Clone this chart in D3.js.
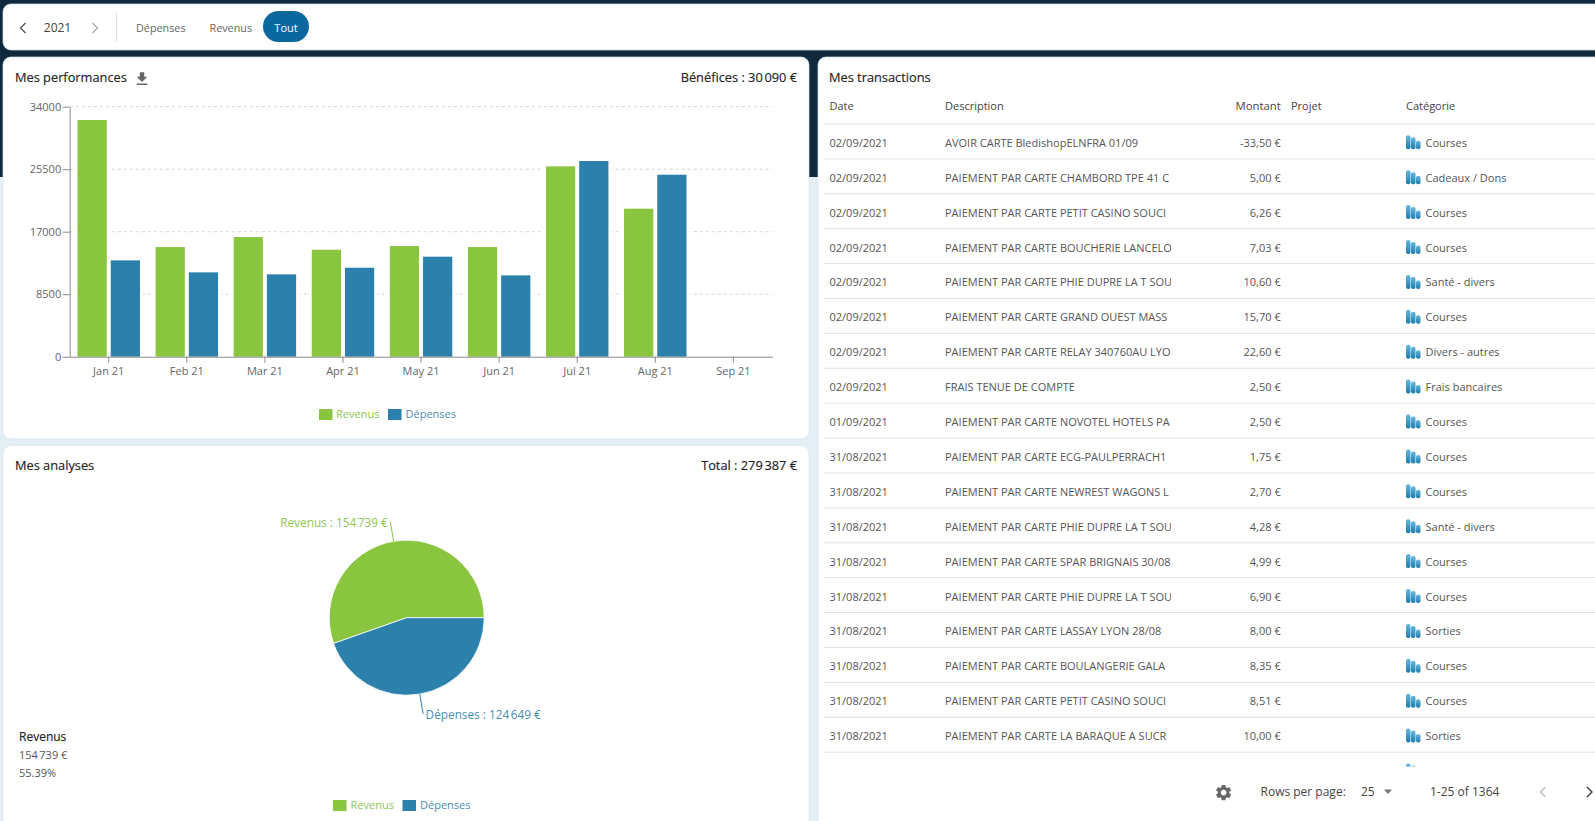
<!DOCTYPE html>
<html>
<head>
<meta charset="utf-8">
<script src="https://d3js.org/d3.v7.min.js"></script>
<style>
	html, body { margin: 0; padding: 0; overflow: hidden; background: #e3eff5; }
	svg { display: block; }
	text { font-family: "Open Sans", sans-serif; font-size: 11px; fill: #555; }
	.title { font-size: 12.8px; fill: #222; font-weight: 500; stroke: #222; stroke-width: 0.15px; }
	.axis text { font-size: 11px; fill: #666; }
	.axis path, .axis line { stroke: #8a8a8a; }
	.grid { stroke: #d6d6d6; stroke-dasharray: 3,3; }
</style>
</head>
<body>
<script>
// chart values
var months = ["Jan 21", "Feb 21", "Mar 21", "Apr 21", "May 21", "Jun 21", "Jul 21", "Aug 21", "Sep 21"];
var revenus = [32190, 14910, 16270, 14550, 15050, 14910, 25890, 20130, 0];
var depenses = [13100, 11470, 11200, 12100, 13600, 11060, 26610, 24750, 0];
var yTicks = [0, 8500, 17000, 25500, 34000];
var seriesNames = ["Revenus", "Dépenses"];
var pieValues = [154739, 124649];
var pieLabels = ["Revenus : 154\u202F739 €", "Dépenses : 124\u202F649 €"];

// table values
var dates = ["02/09/2021", "02/09/2021", "02/09/2021", "02/09/2021", "02/09/2021", "02/09/2021", "02/09/2021", "02/09/2021", "01/09/2021",
	"31/08/2021", "31/08/2021", "31/08/2021", "31/08/2021", "31/08/2021", "31/08/2021", "31/08/2021", "31/08/2021", "31/08/2021", "31/08/2021"];
var descriptions = ["AVOIR CARTE BledishopELNFRA 01/09", "PAIEMENT PAR CARTE CHAMBORD TPE 41 C", "PAIEMENT PAR CARTE PETIT CASINO SOUCI",
	"PAIEMENT PAR CARTE BOUCHERIE LANCELO", "PAIEMENT PAR CARTE PHIE DUPRE LA T SOU", "PAIEMENT PAR CARTE GRAND OUEST MASS",
	"PAIEMENT PAR CARTE RELAY 340760AU LYO", "FRAIS TENUE DE COMPTE", "PAIEMENT PAR CARTE NOVOTEL HOTELS PA",
	"PAIEMENT PAR CARTE ECG-PAULPERRACH1", "PAIEMENT PAR CARTE NEWREST WAGONS L", "PAIEMENT PAR CARTE PHIE DUPRE LA T SOU",
	"PAIEMENT PAR CARTE SPAR BRIGNAIS 30/08", "PAIEMENT PAR CARTE PHIE DUPRE LA T SOU", "PAIEMENT PAR CARTE LASSAY LYON 28/08",
	"PAIEMENT PAR CARTE BOULANGERIE GALA", "PAIEMENT PAR CARTE PETIT CASINO SOUCI", "PAIEMENT PAR CARTE LA BARAQUE A SUCR",
	"PAIEMENT PAR CARTE BOULANGERIE GALA"];
var amounts = ["-33,50 €", "5,00 €", "6,26 €", "7,03 €", "10,60 €", "15,70 €", "22,60 €", "2,50 €", "2,50 €", "1,75 €", "2,70 €", "4,28 €",
	"4,99 €", "6,90 €", "8,00 €", "8,35 €", "8,51 €", "10,00 €", "10,50 €"];
var categories = ["Courses", "Cadeaux / Dons", "Courses", "Courses", "Santé - divers", "Courses", "Divers - autres", "Frais bancaires", "Courses",
	"Courses", "Courses", "Santé - divers", "Courses", "Courses", "Sorties", "Courses", "Courses", "Sorties", "Courses"];

var green = "#89c53f", blue = "#2b81ab";
var colors = [green, blue];
var labelColors = ["#8fc653", "#4b8db0"];

var svg = d3.select("body").append("svg").attr("width", 1595).attr("height", 821);
var defs = svg.append("defs");

// page background and cards
svg.append("rect").attr("width", 1595).attr("height", 177).attr("fill", "#10293c");
svg.append("rect").attr("y", 177).attr("width", 1595).attr("height", 644).attr("fill", "#e3eff5");

function card(x, y, w, h) {
	svg.append("rect").attr("x", x).attr("y", y).attr("width", w).attr("height", h).attr("rx", 8)
		.attr("fill", "#fff").attr("stroke", "#d5e4ec").attr("stroke-width", 0.7);
}
card(3, 4, 1610, 46);
card(3, 57, 806, 382);
card(3, 445.5, 806, 400);
card(818, 57, 800, 790);

function label(x, y, str, anchor, cls, color, size) {
	var t = svg.append("text").attr("x", x).attr("y", y).attr("dy", "0.35em").attr("text-anchor", anchor || "start").text(str);
	if (cls) t.attr("class", cls);
	if (color) t.style("fill", color);
	if (size) t.style("font-size", size + "px");
	return t;
}
function chevron(x, y, dir, color) {
	svg.append("path").attr("d", "M" + (x - 2.5 * dir) + "," + (y - 5) + "L" + (x + 2.5 * dir) + "," + y + "L" + (x - 2.5 * dir) + "," + (y + 5))
		.attr("fill", "none").attr("stroke", color).attr("stroke-width", 1.3);
}

// top bar
chevron(23, 28, -1, "#555");
label(57.5, 28, "2021", "middle", null, "#444", 12);
chevron(95, 28, 1, "#aaa");
svg.append("line").attr("x1", 116.5).attr("x2", 116.5).attr("y1", 13).attr("y2", 42).attr("stroke", "#ddd");
label(136, 28, "Dépenses", "start", null, "#666", 10.8);
label(209.5, 28, "Revenus", "start", null, "#666", 10.8);
svg.append("rect").attr("x", 263).attr("y", 11).attr("width", 46).attr("height", 31).attr("rx", 15.5).attr("fill", "#0a689f");
label(286, 28, "Tout", "middle", null, "#fff");

// Mes performances
label(15, 78, "Mes performances", "start", "title");
svg.append("path").attr("transform", "translate(133,70) scale(0.75)")
	.attr("d", "M19 9h-4V3H9v6H5l7 7 7-7zM5 18v2h14v-2H5z").attr("fill", "#666");
label(797, 78, "Bénéfices : 30\u202F090 €", "end", "title");

// 1. Scale
var xScale = d3.scaleBand().domain(months).range([69.7, 772.4]).paddingInner(0.2).paddingOuter(0.1);
var xInner = d3.scaleBand().domain(seriesNames).range([0, xScale.bandwidth()]).paddingInner(0.12);
var yScale = d3.scaleLinear().domain([0, 34000]).range([356.7, 106.7]);
var xTickScale = d3.scaleBand().domain(months).range([69.7, 772.4]);

// 2. grid behind the bars
svg.selectAll("line.grid").data(yTicks.slice(1)).enter().append("line")
	.attr("class", "grid")
	.attr("x1", 69.7).attr("x2", 772.4)
	.attr("y1", function(d) { return yScale(d); })
	.attr("y2", function(d) { return yScale(d); });

// 3. bars
[revenus, depenses].forEach(function(values, s) {
	svg.append("g").selectAll("rect").data(values).enter().append("rect")
		.attr("x", function(d, i) { return xScale(months[i]) + xInner(seriesNames[s]); })
		.attr("y", function(d) { return yScale(d); })
		.attr("width", xInner.bandwidth())
		.attr("height", function(d) { return yScale(0) - yScale(d); })
		.attr("fill", colors[s])
		.attr("stroke", "#fff").attr("stroke-width", function(d) { return d ? 6 : 0; })
		.style("paint-order", "stroke");
});

// 4. axes
svg.append("g").attr("class", "axis").attr("transform", "translate(69.7,0)")
	.call(d3.axisLeft(yScale).tickValues(yTicks).tickFormat(d3.format("d")).tickSize(7).tickSizeOuter(0).tickPadding(1.5));
svg.append("g").attr("class", "axis").attr("transform", "translate(0,356.7)")
	.call(d3.axisBottom(xTickScale).tickSize(6).tickSizeOuter(0).tickPadding(5));

// legend
function legend(x1, t1, x2, t2, y) {
	var xs = [x1, x2], ts = [t1, t2];
	seriesNames.forEach(function(name, i) {
		svg.append("rect").attr("x", xs[i]).attr("y", y - 5.5).attr("width", 13.5).attr("height", 11).attr("fill", colors[i]);
		label(ts[i], y, name, "start", null, labelColors[i]);
	});
}
legend(319, 336, 388, 405.5, 414.5);

// Mes analyses
label(15, 466, "Mes analyses", "start", "title");
label(797, 466, "Total : 279\u202F387 €", "end", "title");

// pie, starts where the Revenus slice ends up in the original
var pieCx = 406.7, pieCy = 617.7, pieR = 77.5;
var pieStart = Math.PI / 2 - 2 * Math.PI * pieValues[0] / d3.sum(pieValues);
var pie = d3.pie().sort(null).startAngle(pieStart).endAngle(pieStart + 2 * Math.PI);
var arc = d3.arc().innerRadius(0).outerRadius(pieR);
var pieG = svg.append("g").attr("transform", "translate(" + pieCx + "," + pieCy + ")");
pieG.selectAll("path").data(pie(pieValues)).enter().append("path")
	.attr("d", arc)
	.attr("fill", function(d, i) { return colors[i]; })
	.attr("stroke", "#fff").attr("stroke-width", 0.8);

// leader lines go from the middle of each slice, 20px out
pie(pieValues).forEach(function(d, i) {
	var mid = (d.startAngle + d.endAngle) / 2;
	var sx = Math.sin(mid), sy = -Math.cos(mid);
	var ex = pieCx + (pieR + 20) * sx, ey = pieCy + (pieR + 20) * sy;
	svg.append("line").attr("x1", pieCx + pieR * sx).attr("y1", pieCy + pieR * sy).attr("x2", ex).attr("y2", ey)
		.attr("stroke", colors[i]);
	label(i == 0 ? ex - 2.5 : ex + 2.5, ey + 1.5, pieLabels[i], i == 0 ? "end" : "start", null, labelColors[i], 11.8);
});

label(19, 737, "Revenus", "start", "title").style("font-size", "12px");
label(19, 755, "154\u202F739 €");
label(19, 773, "55.39%");
legend(333, 350.5, 402.5, 420, 805.5);

// Mes transactions
label(829, 78, "Mes transactions", "start", "title");
var colDate = 829.5, colDesc = 945, colAmount = 1280.7, colProjet = 1291, colCat = 1406, rowH = 34.9, rowTop = 124;
label(colDate, 106.5, "Date", "start", null, "#444");
label(colDesc, 106.5, "Description", "start", null, "#444");
label(colAmount, 106.5, "Montant", "end", null, "#444", 11.3);
label(colProjet, 106.5, "Projet", "start", null, "#444");
label(colCat, 106.5, "Catégorie", "start", null, "#444");

defs.append("clipPath").attr("id", "descClip").append("rect").attr("x", colDesc).attr("y", 0).attr("width", 226).attr("height", 821);
defs.append("clipPath").attr("id", "tableClip").append("rect").attr("x", 818).attr("y", 57).attr("width", 777).attr("height", 709.5);
var grad = defs.append("linearGradient").attr("id", "iconGrad").attr("x1", 0).attr("x2", 0).attr("y1", 0).attr("y2", 1);
grad.append("stop").attr("offset", "0%").attr("stop-color", "#66b8df");
grad.append("stop").attr("offset", "100%").attr("stop-color", "#1e7cab");

var table = svg.append("g").attr("clip-path", "url(#tableClip)");
table.append("line").attr("x1", 824).attr("x2", 1595).attr("y1", rowTop).attr("y2", rowTop).attr("stroke", "#ddd");

var rows = table.selectAll("g.row").data(d3.range(dates.length)).enter().append("g")
	.attr("class", "row")
	.attr("transform", function(i) { return "translate(0," + (rowTop + rowH * i) + ")"; });
rows.append("line").attr("x1", 824).attr("x2", 1595).attr("y1", rowH).attr("y2", rowH).attr("stroke", "#e2e2e2");
rows.append("text").attr("x", colDate).attr("y", 19).attr("dy", "0.35em").text(function(i) { return dates[i]; });
rows.append("g").attr("clip-path", "url(#descClip)").append("text")
	.attr("x", colDesc).attr("y", 19).attr("dy", "0.35em").text(function(i) { return descriptions[i]; });
rows.append("text").attr("x", colAmount).attr("y", 19).attr("dy", "0.35em").attr("text-anchor", "end").text(function(i) { return amounts[i]; });
rows.append("text").attr("x", colCat + 19.5).attr("y", 19).attr("dy", "0.35em").text(function(i) { return categories[i]; });

// little category icon, three bars
[[0, 14], [5, 12], [10, 8.5]].forEach(function(b) {
	rows.append("rect").attr("x", colCat + b[0]).attr("y", 25.3 - b[1]).attr("width", 4.5).attr("height", b[1]).attr("rx", 2)
		.attr("fill", "url(#iconGrad)");
});

// footer
svg.append("path").attr("transform", "translate(1214,783) scale(0.8)").attr("fill", "#666")
	.attr("d", "M19.14 12.94c.04-.3.06-.61.06-.94 0-.32-.02-.64-.07-.94l2.03-1.58a.49.49 0 0 0 .12-.61l-1.92-3.32a.488.488 0 0 0-.59-.22l-2.39.96c-.5-.38-1.03-.7-1.62-.94l-.36-2.54a.484.484 0 0 0-.48-.41h-3.84c-.24 0-.43.17-.47.41l-.36 2.54c-.59.24-1.13.57-1.62.94l-2.39-.96c-.22-.08-.47 0-.59.22L2.74 8.87c-.12.21-.08.47.12.61l2.03 1.58c-.05.3-.09.63-.09.94s.02.64.07.94l-2.03 1.58a.49.49 0 0 0-.12.61l1.92 3.32c.12.22.37.29.59.22l2.39-.96c.5.38 1.03.7 1.62.94l.36 2.54c.05.24.24.41.48.41h3.84c.24 0 .44-.17.47-.41l.36-2.54c.59-.24 1.13-.56 1.62-.94l2.39.96c.22.08.47 0 .59-.22l1.92-3.32c.12-.22.07-.47-.12-.61l-2.01-1.58zM12 15.6c-1.98 0-3.6-1.62-3.6-3.6s1.62-3.6 3.6-3.6 3.6 1.62 3.6 3.6-1.62 3.6-3.6 3.6z");
label(1260.5, 792, "Rows per page:", "start", null, "#444", 12);
label(1361, 792, "25", "start", null, "#444", 12);
svg.append("path").attr("d", "M1384,789.5h8l-4,4.5z").attr("fill", "#777");
label(1430, 792, "1-25 of 1364", "start", null, "#444", 12);
chevron(1543, 792, -1, "#bbb");
chevron(1589.5, 792, 1, "#333");
</script>
</body>
</html>
